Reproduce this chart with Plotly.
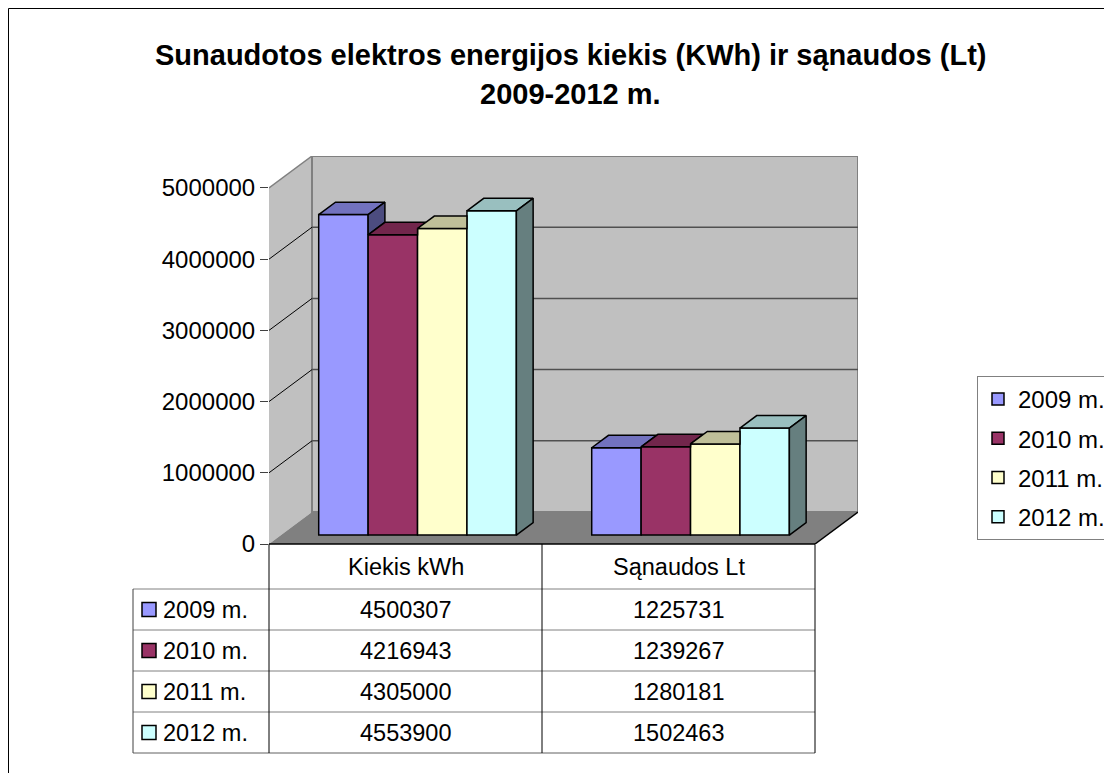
import plotly.graph_objects as go

# ---------------- data ----------------
categories = ["Kiekis kWh", "Sąnaudos Lt"]
series_names = ["2009 m.", "2010 m.", "2011 m.", "2012 m."]
kiekis_kwh = [4500307, 4216943, 4305000, 4553900]
sanaudos_lt = [1225731, 1239267, 1280181, 1502463]
tick_values = [0, 1000000, 2000000, 3000000, 4000000, 5000000]
tick_labels = ["0", "1000000", "2000000", "3000000", "4000000", "5000000"]
colors = ["#9999FF", "#993366", "#FFFFCC", "#CCFFFF"]
title_lines = ["Sunaudotos elektros energijos kiekis (KWh) ir sąnaudos (Lt)", "2009-2012 m."]

values = [[kiekis_kwh[j], sanaudos_lt[j]] for j in range(len(series_names))]

# ---------------- layout geometry ----------------
FONT = "Liberation Sans, Arial, sans-serif"
OFF = 8                      # page body margin
W, H = 1112 - OFF, 773 - OFF
ML, MR, MT, MB = 261, 254, 148, 229
PW, PH = W - ML - MR, H - MT - MB
NCAT = len(categories)
NS = len(series_names)
DX = 43 / 273.0          # depth offset in category units
DY = 0.449e6             # depth offset in value units
XMAX = NCAT + DX
YMAX = tick_values[-1] + DY
F0 = 0.28                # depth position of bar front face
D = 0.39                 # bar depth (fraction of full depth)
BW = 0.181               # bar width (category units)
TOP_K, SIDE_K = 0.75, 0.5


def shade(hexc, k):
    h = hexc.lstrip("#")
    r, g, b = (int(h[i:i + 2], 16) for i in (0, 2, 4))
    return "#%02x%02x%02x" % (int(r * k), int(g * k), int(b * k))


def pxx(px):
    return (px - OFF - ML) / PW


def pxy(py):
    return (H - MB - (py - OFF)) / PH


def dxp(xd):
    return xd / XMAX


fig = go.Figure()

Y0 = F0 * DY
ddx, ddy = D * DX, D * DY

# front faces (bars through the axes)
for j in range(NS):
    xs = [g + 0.5 + F0 * DX + (j - (NS - 1) / 2) * BW for g in range(NCAT)]
    fig.add_trace(go.Bar(
        x=xs, y=values[j], base=[Y0] * NCAT, width=BW, name=series_names[j],
        legendgroup=series_names[j],
        marker=dict(color=colors[j], line=dict(color="black", width=1.5)),
        hoverinfo="skip",
    ))

# top and side faces (computed from the values)
for g in range(NCAT):
    for j in range(NS):
        xc = g + 0.5 + F0 * DX + (j - (NS - 1) / 2) * BW
        x0, x1 = xc - BW / 2, xc + BW / 2
        v = values[j][g]
        T = Y0 + v
        nxt = values[j + 1][g] if j < NS - 1 else None
        # top face
        if nxt is not None and nxt > v:
            Tn = Y0 + nxt
            if Tn - T >= ddy:
                px_ = [x0, x1, x1, x0 + ddx, x0]
                py_ = [T, T, T + ddy, T + ddy, T]
            else:
                xi = x1 + ddx * (T + ddy - Tn) / ddy
                px_ = [x0, x1, x1, xi, x0 + ddx, x0]
                py_ = [T, T, Tn, T + ddy, T + ddy, T]
        else:
            px_ = [x0, x1, x1 + ddx, x0 + ddx, x0]
            py_ = [T, T, T + ddy, T + ddy, T]
        fig.add_trace(go.Scatter(x=px_, y=py_, mode="lines", fill="toself",
                                 fillcolor=shade(colors[j], TOP_K),
                                 line=dict(color="black", width=1.5),
                                 showlegend=False, hoverinfo="skip"))
        # side face
        if nxt is None:
            lo = Y0
        elif nxt < v:
            lo = Y0 + nxt
        else:
            lo = None
        if lo is not None:
            fig.add_trace(go.Scatter(
                x=[x1, x1 + ddx, x1 + ddx, x1, x1],
                y=[lo, lo + ddy, T + ddy, T, lo],
                mode="lines", fill="toself",
                fillcolor=shade(colors[j], SIDE_K),
                line=dict(color="black", width=1.5),
                showlegend=False, hoverinfo="skip"))

shapes = []
# outer chart frame
shapes.append(dict(type="rect", xref="paper", yref="paper",
                   x0=pxx(8.5), x1=pxx(1140), y0=pxy(800), y1=pxy(8.5),
                   line=dict(color="black", width=1), fillcolor="rgba(0,0,0,0)",
                   layer="below"))
ytop = tick_values[-1]
# side wall
shapes.append(dict(type="path", xref="x", yref="y", layer="below",
                   path=f"M0,0 L{DX},{DY} L{DX},{ytop + DY} L0,{ytop} Z",
                   fillcolor="#C0C0C0", line=dict(width=0)))
# back wall
shapes.append(dict(type="rect", xref="x", yref="y", layer="below",
                   x0=DX, x1=NCAT + DX, y0=DY, y1=ytop + DY,
                   fillcolor="#C0C0C0", line=dict(color="#808080", width=2)))
# side-wall top edge
shapes.append(dict(type="line", xref="x", yref="y", layer="below",
                   x0=0, y0=ytop, x1=DX, y1=ytop + DY,
                   line=dict(color="#808080", width=1.5)))
# gridlines
for tv in tick_values[1:-1]:
    shapes.append(dict(type="line", xref="x", yref="y", layer="below",
                       x0=DX, x1=NCAT + DX, y0=tv + DY, y1=tv + DY,
                       line=dict(color="#505050", width=1.5)))
    shapes.append(dict(type="line", xref="x", yref="y", layer="below",
                       x0=0, x1=DX, y0=tv, y1=tv + DY,
                       line=dict(color="black", width=1)))
# floor
shapes.append(dict(type="path", xref="x", yref="y", layer="below",
                   path=f"M0,0 L{NCAT},0 L{NCAT + DX},{DY} L{DX},{DY} Z",
                   fillcolor="#808080", line=dict(width=0)))
shapes.append(dict(type="line", xref="x", yref="y", layer="below",
                   x0=NCAT, y0=0, x1=NCAT + DX, y1=DY,
                   line=dict(color="black", width=1.5)))

# ---------------- data table ----------------
TBL_TOP = 544
HDR_BOT = 589
ROW_H = 41
TBL_LEFT = 133
row_lines = [HDR_BOT + i * ROW_H for i in range(NS + 1)]
TBL_BOT = row_lines[-1]

# floor front edge / table top
shapes.append(dict(type="line", xref="paper", yref="paper",
                   x0=dxp(0), x1=dxp(NCAT), y0=pxy(TBL_TOP), y1=pxy(TBL_TOP),
                   line=dict(color="black", width=1.5)))
for i, ry in enumerate(row_lines):
    shapes.append(dict(type="line", xref="paper", yref="paper",
                       x0=pxx(TBL_LEFT), x1=dxp(NCAT), y0=pxy(ry), y1=pxy(ry),
                       line=dict(color="#808080" if i < NS else "#606060", width=1)))
shapes.append(dict(type="line", xref="paper", yref="paper",
                   x0=pxx(TBL_LEFT), x1=pxx(TBL_LEFT), y0=pxy(HDR_BOT), y1=pxy(TBL_BOT),
                   line=dict(color="#404040", width=1)))
for g in range(NCAT + 1):
    shapes.append(dict(type="line", xref="paper", yref="paper",
                       x0=dxp(g), x1=dxp(g), y0=pxy(TBL_TOP), y1=pxy(TBL_BOT),
                       line=dict(color="black", width=1)))

TSIZE = 23.5
annotations = []
hdr_mid = (TBL_TOP + HDR_BOT) / 2
for g, cat in enumerate(categories):
    annotations.append(dict(xref="paper", yref="paper", x=dxp(g + 0.5), y=pxy(hdr_mid),
                            text=cat, showarrow=False, xanchor="center", yanchor="middle",
                            font=dict(family=FONT, size=TSIZE, color="black")))
for j in range(NS):
    mid = row_lines[j] + ROW_H / 2
    shapes.append(dict(type="rect", xref="paper", yref="paper",
                       x0=pxx(142), x1=pxx(156), y0=pxy(mid + 7), y1=pxy(mid - 7),
                       fillcolor=colors[j], line=dict(color="black", width=1.5)))
    annotations.append(dict(xref="paper", yref="paper", x=pxx(161), y=pxy(mid),
                            text=series_names[j], showarrow=False, xanchor="left",
                            yanchor="middle",
                            font=dict(family=FONT, size=TSIZE, color="black")))
    for g in range(NCAT):
        annotations.append(dict(xref="paper", yref="paper", x=dxp(g + 0.5), y=pxy(mid),
                                text=str(values[j][g]), showarrow=False,
                                xanchor="center", yanchor="middle",
                                font=dict(family=FONT, size=TSIZE, color="black")))

# title
annotations.append(dict(xref="paper", yref="paper", x=pxx(570), y=pxy(55),
                        text="<b>" + title_lines[0] + "</b>", showarrow=False,
                        xanchor="center", yanchor="middle",
                        font=dict(family=FONT, size=29, color="black")))
annotations.append(dict(xref="paper", yref="paper", x=pxx(570), y=pxy(94),
                        text="<b>" + title_lines[1] + "</b>", showarrow=False,
                        xanchor="center", yanchor="middle",
                        font=dict(family=FONT, size=29, color="black")))

fig.update_layout(
    width=W, height=H,
    margin=dict(l=ML, r=MR, t=MT, b=MB, autoexpand=False),
    paper_bgcolor="white", plot_bgcolor="white",
    barmode="overlay",
    showlegend=True,
    legend=dict(x=pxx(977), y=pxy(376), xanchor="left", yanchor="top",
                bordercolor="#808080", borderwidth=1, bgcolor="white",
                font=dict(family=FONT, size=24, color="black"),
                traceorder="grouped", tracegroupgap=5, itemwidth=30),
    xaxis=dict(range=[0, XMAX], visible=False, fixedrange=True),
    yaxis=dict(range=[0, YMAX], tickvals=tick_values, ticktext=tick_labels,
               showgrid=False, zeroline=False, showline=False,
               ticks="outside", ticklen=8, tickcolor="#404040", tickwidth=1,
               tickfont=dict(family=FONT, size=24, color="black"), fixedrange=True),
    shapes=shapes, annotations=annotations,
    hovermode=False,
)

fig.write_html("out.html")
